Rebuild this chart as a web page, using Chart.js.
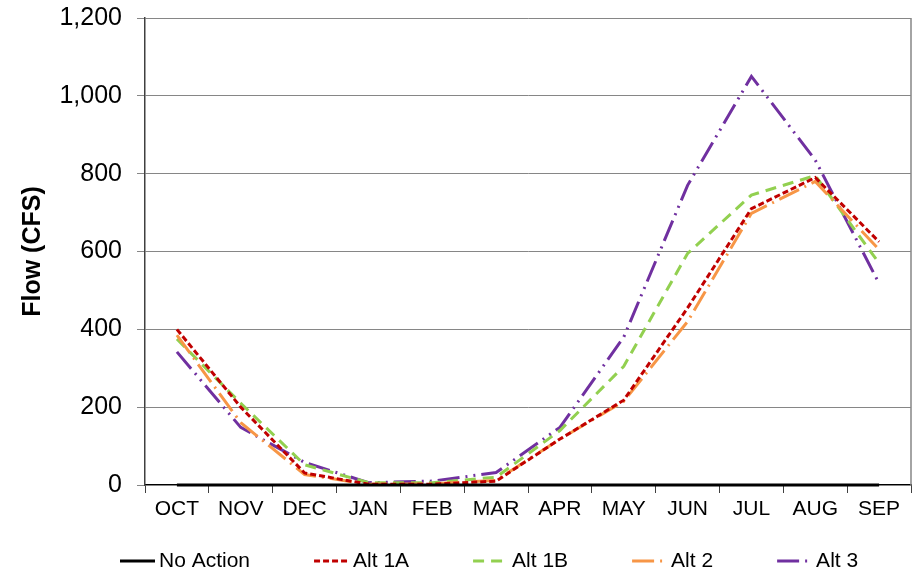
<!DOCTYPE html>
<html>
<head>
<meta charset="utf-8">
<script src="https://cdn.jsdelivr.net/npm/chart.js@4/dist/chart.umd.min.js"></script>
<style>
  html, body { margin: 0; padding: 0; background: #fff; }
  #wrap { width: 920px; height: 573px; }
</style>
</head>
<body>
<div id="wrap"><canvas id="flowChart" width="920" height="573"></canvas></div>
<script>
// valores (CFS)
const meses = ['OCT', 'NOV', 'DEC', 'JAN', 'FEB', 'MAR', 'APR', 'MAY', 'JUN', 'JUL', 'AUG', 'SEP'];
const noAction = [0, 0, 0, 0, 0, 0, 0, 0, 0, 0, 0, 0];
const alt1A = [400, 200, 31, 2, 2, 10, 118, 218, 455, 710, 790, 625];
const alt1B = [375, 210, 52, 6, 6, 20, 140, 305, 595, 745, 795, 570];
const alt2 = [385, 160, 27, 2, 3, 12, 118, 215, 420, 698, 780, 605];
const alt3 = [342, 148, 58, 6, 10, 32, 148, 380, 770, 1050, 835, 518];
const yTicks = [0, 200, 400, 600, 800, 1000, 1200];

const FONT = "'Liberation Sans', Arial, sans-serif";
Chart.defaults.font.family = FONT;
Chart.defaults.color = '#000';

// borda direita da área do gráfico
const bordaDireita = {
  id: 'bordaDireita',
  afterDraw(chart) {
    const { ctx, chartArea } = chart;
    ctx.save();
    ctx.strokeStyle = '#868686';
    ctx.lineWidth = 1.5;
    ctx.beginPath();
    ctx.moveTo(chartArea.right, chartArea.top);
    ctx.lineTo(chartArea.right, chartArea.bottom);
    ctx.stroke();
    ctx.restore();
  }
};

// legenda desenhada à mão (linha tracejada + texto)
const legendaLinhas = {
  id: 'legendaLinhas',
  afterDraw(chart, args, opts) {
    const ctx = chart.ctx;
    ctx.save();
    ctx.font = opts.fontSize + 'px ' + FONT;
    ctx.textBaseline = 'middle';
    let x = opts.startX;
    const y = opts.y;
    chart.data.datasets.forEach(ds => {
      ctx.strokeStyle = ds.borderColor;
      ctx.lineWidth = ds.borderWidth;
      ctx.setLineDash(ds.borderDash || []);
      ctx.beginPath();
      ctx.moveTo(x, y);
      ctx.lineTo(x + opts.lineLen, y);
      ctx.stroke();
      ctx.setLineDash([]);
      x += opts.lineLen + opts.textGap;
      ctx.fillStyle = '#000';
      ctx.fillText(ds.label, x, y);
      x += ctx.measureText(ds.label).width + opts.itemGap;
    });
    ctx.restore();
  }
};

function serie(label, data, color, dash, order) {
  return {
    label: label,
    data: data,
    borderColor: color,
    backgroundColor: color,
    borderWidth: 3,
    borderDash: dash,
    pointRadius: 0,
    pointHoverRadius: 0,
    tension: 0,
    fill: false,
    clip: 6,
    order: order
  };
}

new Chart(document.getElementById('flowChart'), {
  type: 'line',
  data: {
    labels: meses,
    datasets: [
      serie('No Action', noAction, '#000000', [], 0),
      serie('Alt 1A', alt1A, '#C00000', [6, 3], 1),
      serie('Alt 1B', alt1B, '#92D050', [11, 7], 3),
      serie('Alt 2', alt2, '#F79646', [22, 6, 2, 6], 2),
      serie('Alt 3', alt3, '#7030A0', [22, 6, 2, 6, 2, 6], 4)
    ]
  },
  options: {
    responsive: false,
    animation: false,
    devicePixelRatio: 1,
    layout: { padding: { top: 18, right: 9, left: 0, bottom: 0 } },
    plugins: {
      legend: { display: false },
      tooltip: { enabled: false },
      legendaLinhas: { startX: 120, y: 561, fontSize: 21, lineLen: 35, textGap: 4, itemGap: 64 }
    },
    scales: {
      x: {
        offset: true,
        grid: {
          offset: true,
          drawOnChartArea: false,
          drawTicks: true,
          tickLength: 8,
          color: '#404040',
          lineWidth: 1
        },
        border: { color: '#000', width: 1.5, z: -1 },
        ticks: { font: { size: 21 }, color: '#000', padding: 4, maxRotation: 0 },
        afterFit(scale) {
          scale.height = 88;
          scale.paddingLeft = 0;
          scale.paddingRight = 0;
        }
      },
      y: {
        min: 0,
        max: 1200,
        afterBuildTicks(scale) { scale.ticks = yTicks.map(v => ({ value: v })); },
        grid: { color: '#868686', lineWidth: 1, tickLength: 8 },
        border: { color: '#404040', width: 1.5 },
        ticks: {
          font: { size: 25 },
          color: '#000',
          padding: 15,
          callback: v => v.toLocaleString('en-US')
        },
        title: {
          display: true,
          text: 'Flow (CFS)',
          font: { size: 25, weight: 'bold' },
          color: '#000',
          padding: { top: 18, bottom: 0 }
        },
        afterFit(scale) {
          scale.width = 145;
          scale.paddingTop = 0;
          scale.paddingBottom = 0;
        }
      }
    }
  },
  plugins: [bordaDireita, legendaLinhas]
});
</script>
</body>
</html>
